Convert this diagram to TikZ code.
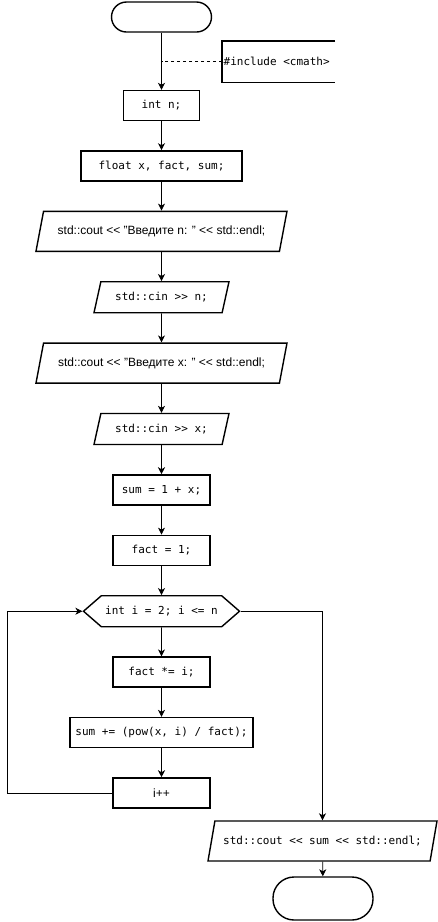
\documentclass[tikz,border=0pt]{standalone}
\usepackage{fontspec}
\setmainfont{Liberation Sans}
\setmonofont{DejaVu Sans Mono}
\usepackage{tikz}
\usetikzlibrary{positioning,arrows.meta,shapes.geometric,shapes.symbols,calc}

\begin{document}
\begin{tikzpicture}[
  x=1pt,y=-1pt,
  font=\fontsize{12}{14}\selectfont,
  node distance=29pt,
  code/.style={font=\ttfamily\fontsize{11}{13}\selectfont},
  box/.style={draw,line width=1.4pt,minimum height=30pt,minimum width=97pt,align=center,code},
  io/.style={draw,line width=1.4pt,trapezium,trapezium left angle=60,trapezium right angle=120,trapezium stretches body,minimum height=40pt,inner sep=1pt},
  term/.style={draw,line width=1.4pt,rounded corners=15pt,minimum width=100pt,minimum height=30pt},
  prep/.style={draw,line width=1.4pt,signal,signal to=east and west,signal pointer angle=82,minimum width=156pt,minimum height=31pt,inner sep=1pt,code},
  edge/.style={-{Stealth[length=7pt,width=7pt,inset=2pt]},line width=0.8pt}
]
\useasboundingbox (0,0) rectangle (437,922);

\node[term] (start) at (161.5,17) {};
\node[box,minimum width=76pt] (decln) at (161.5,105.5) {int n;};
\node[box,minimum width=161pt,below=of decln] (declx) {float x, fact, sum;};
\node[io,minimum width=251pt,below=of declx] (asknum) {std::cout <{}< "Введите n: " <{}< std::endl;};
\node[io,minimum width=135pt,minimum height=31pt,below=of asknum,code] (readn) {std::cin >> n;};
\node[io,minimum width=251pt,below=of readn] (askx) {std::cout <{}< "Введите x: " <{}< std::endl;};
\node[io,minimum width=135pt,minimum height=31pt,below=of askx,code] (readx) {std::cin >> x;};
\node[box,below=of readx] (initsum) {sum = 1 + x;};
\node[box,below=of initsum] (initfact) {fact = 1;};
\node[prep,below=of initfact] (loop) {int i = 2; i <= n};
\node[box,below=of loop] (mulfact) {fact *= i;};
\node[box,minimum width=183pt,below=of mulfact] (addterm) {sum += (pow(x, i) / fact);};
\node[box,below=of addterm,font=\fontsize{12}{14}\selectfont] (inc) {i++};
\node[io,minimum width=229pt,code] (printsum) at (322.5,841) {std::cout << sum << std::endl;};
\node[term,minimum height=43pt,rounded corners=21pt] (stop) at (323,898.5) {};

\node[code,anchor=west,inner sep=1.5pt,minimum height=41pt] (note) at (222,61.5) {\#include <cmath>};
\draw[line width=1.4pt] ($(note.north west)+(113,0)$) -- (note.north west) -- (note.south west) -- ++(113,0);

\draw[edge] (start) -- (decln);
\draw[dashed,line width=0.8pt] (note.west) -- (note.west -| start.south);
\draw[edge] (decln) -- (declx);
\draw[edge] (declx) -- (asknum);
\draw[edge] (asknum) -- (readn);
\draw[edge] (readn) -- (askx);
\draw[edge] (askx) -- (readx);
\draw[edge] (readx) -- (initsum);
\draw[edge] (initsum) -- (initfact);
\draw[edge] (initfact) -- (loop);
\draw[edge] (loop) -- (mulfact);
\draw[edge] (mulfact) -- (addterm);
\draw[edge] (addterm) -- (inc);
\draw[edge] (inc.west) -- ++(-105,0) |- (loop.west);
\draw[edge] (loop.east) -| (printsum.north);
\draw[edge] (printsum) -- (stop);
\end{tikzpicture}
\end{document}
